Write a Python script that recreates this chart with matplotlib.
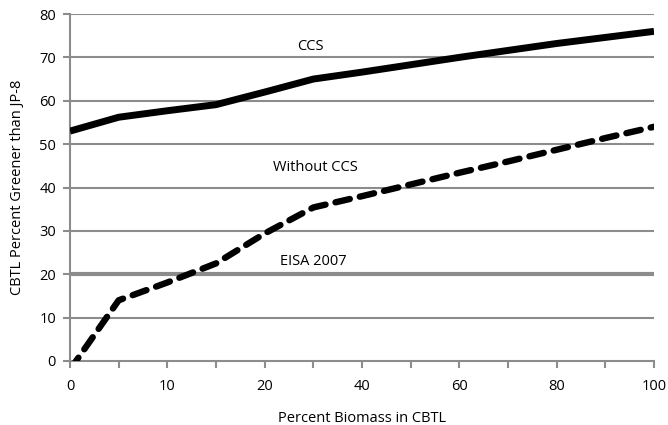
import matplotlib
matplotlib.use("Agg")
import matplotlib.pyplot as plt

categories = [0, 5, 10, 15, 20, 30, 40, 50, 60, 70, 80, 90, 100]
ccs = [53, 56.2, 57.7, 59.1, 62, 65, 66.6, 68.3, 70, 71.6, 73.2, 74.6, 76]
without_ccs = [-2, 14, 18.1, 22.5, 29.4, 35.4, 38, 40.7, 43.4, 46, 48.7, 51.4, 54]
eisa_level = 20
y_ticks = [0, 10, 20, 30, 40, 50, 60, 70, 80]

plt.rcParams['font.family'] = ['Open Sans', 'DejaVu Sans']
grey = '#8c8c8c'
fs = 10.5

fig = plt.figure(figsize=(6.68, 4.25), dpi=100)
ax_h = 347
ax_w = 584
ax = fig.add_axes([70/668, 64/425, ax_w/668, ax_h/425])

pos = list(range(len(categories)))
for y in y_ticks[1:]:
    if y == eisa_level:
        continue
    ax.axhline(y, color=grey, lw=1.5, zorder=1)
ax.axhline(eisa_level, color=grey, lw=3, zorder=1)

ax.plot(pos, ccs, color='black', lw=5, solid_capstyle='butt', zorder=3)
ax.plot(pos, without_ccs, color='black', lw=4.6, dashes=(2.3, 1.6),
        dash_capstyle='round', zorder=3)

ax.set_xlim(0, len(categories) - 1)
ax.set_ylim(0, 80)
ax.set_yticks(y_ticks)
ax.set_xticks(pos)
ax.set_xticklabels([str(c) if i % 2 == 0 else '' for i, c in enumerate(categories)])

for s in ['top', 'right']:
    ax.spines[s].set_visible(False)
for s in ['left', 'bottom']:
    ax.spines[s].set_color(grey)
    ax.spines[s].set_linewidth(1.5)
ax.tick_params(axis='both', direction='out', length=5, width=1.5, color=grey,
               labelsize=fs, labelcolor='black')
ax.tick_params(axis='x', pad=8)
ax.tick_params(axis='y', pad=5)

ax.text(4.93, 72.5, 'CCS', ha='center', va='center', fontsize=fs)
ax.text(5.05, 44.5, 'Without CCS', ha='center', va='center', fontsize=fs)
ax.text(5.0, 22.9, 'EISA 2007', ha='center', va='center', fontsize=fs)

ax.set_xlabel('Percent Biomass in CBTL', fontsize=fs, va='center')
ax.xaxis.set_label_coords(0.5, -57/ax_h)
ax.set_ylabel('CBTL Percent Greener than JP-8', fontsize=fs, va='center')
ax.yaxis.set_label_coords(-52/ax_w, 0.5)

fig.savefig('out.png', dpi=100)
